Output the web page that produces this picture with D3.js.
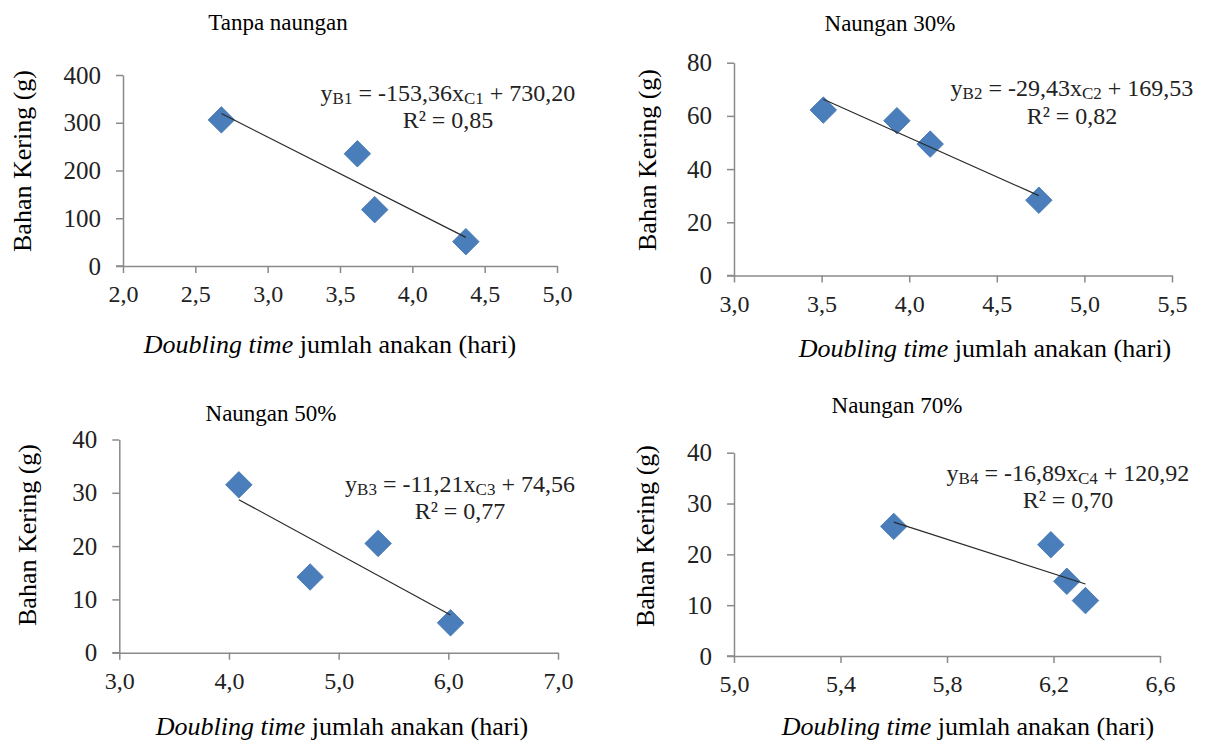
<!DOCTYPE html>
<html>
<head>
<meta charset="utf-8">
<script src="https://cdn.jsdelivr.net/npm/d3@7"></script>
<style>
  html, body { margin: 0; padding: 0; background: #fff; }
  svg { display: block; font-family: "Liberation Serif", "DejaVu Serif", serif; }
  svg text { font-family: "Liberation Serif", "DejaVu Serif", serif !important; }
</style>
</head>
<body>
<svg id="chart" width="1208" height="744"></svg>
<script>
// ---- data ----
const panelTitles = ["Tanpa naungan", "Naungan 30%", "Naungan 50%", "Naungan 70%"];
const xValues1 = [2.68, 3.62, 3.74, 4.37];
const yValues1 = [306, 235, 118, 51];
const xValues2 = [3.51, 3.93, 4.12, 4.74];
const yValues2 = [62.2, 58.2, 49.4, 28.3];
const xValues3 = [4.09, 4.74, 5.36, 6.02];
const yValues3 = [31.5, 14.2, 20.5, 5.6];
const xValues4 = [5.60, 6.19, 6.25, 6.32];
const yValues4 = [25.5, 21.9, 14.7, 10.9];
const slopes = [-153.36, -29.43, -11.21, -16.89];
const intercepts = [730.20, 169.53, 74.56, 120.92];
const rSquared = ["0,85", "0,82", "0,77", "0,70"];
const eqSubY = ["B1", "B2", "B3", "B4"];
const eqSubX = ["C1", "C2", "C3", "C4"];
const slopeLabels = ["-153,36", "-29,43", "-11,21", "-16,89"];
const interceptLabels = ["730,20", "169,53", "74,56", "120,92"];
const xTicks1 = [2.0, 2.5, 3.0, 3.5, 4.0, 4.5, 5.0];
const xTicks2 = [3.0, 3.5, 4.0, 4.5, 5.0, 5.5];
const xTicks3 = [3.0, 4.0, 5.0, 6.0, 7.0];
const xTicks4 = [5.0, 5.4, 5.8, 6.2, 6.6];
const yTicks1 = [0, 100, 200, 300, 400];
const yTicks2 = [0, 20, 40, 60, 80];
const yTicks3 = [0, 10, 20, 30, 40];
const yTicks4 = [0, 10, 20, 30, 40];
const xAxisTitleItalic = "Doubling time";
const xAxisTitleRest = " jumlah anakan (hari)";
const yAxisTitle = "Bahan Kering (g)";

// ---- layout ----
const layouts = [
  { xr: [123, 557], yr: [266, 75], title: [278, 30], eq: [448, 101, 128], xt: [330, 353], yt: [31, 161] },
  { xr: [734, 1172], yr: [275.5, 62.7], title: [890, 31], eq: [1072, 96, 124], xt: [985, 357], yt: [656, 160] },
  { xr: [119.3, 558], yr: [652.7, 439.5], title: [271, 421], eq: [460, 492, 519], xt: [342, 735], yt: [36, 535] },
  { xr: [734, 1160], yr: [656, 452.7], title: [897, 413], eq: [1068, 481, 508], xt: [968, 735], yt: [654, 536] }
];

const panels = [
  { xs: xValues1, ys: yValues1, xt: xTicks1, yt: yTicks1 },
  { xs: xValues2, ys: yValues2, xt: xTicks2, yt: yTicks2 },
  { xs: xValues3, ys: yValues3, xt: xTicks3, yt: yTicks3 },
  { xs: xValues4, ys: yValues4, xt: xTicks4, yt: yTicks4 }
];

const FONT = "'Liberation Serif', 'DejaVu Serif', serif";
const svg = d3.select("#chart");
const fmtX = v => d3.format(".1f")(v).replace(".", ",");
const axisColor = "#8a8a8a";
const markColor = "#4a7ebb";

panels.forEach((p, i) => {
  const L = layouts[i];
  const x = d3.scaleLinear().domain([p.xt[0], p.xt[p.xt.length - 1]]).range(L.xr);
  const y = d3.scaleLinear().domain([p.yt[0], p.yt[p.yt.length - 1]]).range(L.yr);
  const g = svg.append("g");

  const xa = g.append("g").attr("transform", `translate(0,${L.yr[0]})`)
    .call(d3.axisBottom(x).tickValues(p.xt).tickFormat(fmtX).tickSize(7).tickSizeOuter(0).tickPadding(12));
  const ya = g.append("g").attr("transform", `translate(${L.xr[0]},0)`)
    .call(d3.axisLeft(y).tickValues(p.yt).tickFormat(d3.format("d")).tickSize(7).tickSizeOuter(0).tickPadding(15));
  [xa, ya].forEach((a, k) => {
    a.attr("font-family", FONT);
    a.selectAll("path.domain").attr("stroke", axisColor).attr("stroke-width", 1.5);
    a.selectAll(".tick line").attr("stroke", axisColor).attr("stroke-width", 1.5);
    a.selectAll(".tick text").attr("fill", "#222").attr("font-size", k === 0 ? 24 : 25)
      .style("font-family", FONT);
  });
  g.append("line").attr("x1", L.xr[0] - 7).attr("x2", L.xr[0])
    .attr("y1", L.yr[0]).attr("y2", L.yr[0]).attr("stroke", axisColor).attr("stroke-width", 1.5);

  // markers
  const sym = d3.symbol().type(d3.symbolSquare).size(350);
  g.selectAll("path.pt").data(p.xs.map((v, k) => [v, p.ys[k]])).enter()
    .append("path").attr("class", "pt")
    .attr("d", sym)
    .attr("transform", d => `translate(${x(d[0])},${y(d[1])}) rotate(45)`)
    .attr("fill", markColor).attr("stroke", "#4172b0").attr("stroke-width", 0.8);

  // trendline (on top of markers)
  const xmin = d3.min(p.xs), xmax = d3.max(p.xs);
  g.append("line")
    .attr("x1", x(xmin)).attr("y1", y(slopes[i] * xmin + intercepts[i]))
    .attr("x2", x(xmax)).attr("y2", y(slopes[i] * xmax + intercepts[i]))
    .attr("stroke", "#2a2a2a").attr("stroke-width", 1.2);

  // title
  g.append("text").attr("x", L.title[0]).attr("y", L.title[1])
    .attr("text-anchor", "middle").attr("font-size", 23).attr("fill", "#000")
    .style("font-family", FONT)
    .text(panelTitles[i]);

  // equation
  const eq = g.append("text").attr("x", L.eq[0]).attr("y", L.eq[1])
    .attr("text-anchor", "middle").attr("font-size", 24).attr("fill", "#222")
    .style("font-family", FONT);
  eq.append("tspan").text("y");
  eq.append("tspan").attr("font-size", 17).attr("dy", 3).text(eqSubY[i]);
  eq.append("tspan").attr("dy", -3).text(" = " + slopeLabels[i] + "x");
  eq.append("tspan").attr("font-size", 17).attr("dy", 3).text(eqSubX[i]);
  eq.append("tspan").attr("dy", -3).text(" + " + interceptLabels[i]);
  g.append("text").attr("x", L.eq[0]).attr("y", L.eq[2])
    .attr("text-anchor", "middle").attr("font-size", 24).attr("fill", "#222")
    .style("font-family", FONT)
    .text("R² = " + rSquared[i]);

  // x axis title
  const xt = g.append("text").attr("x", L.xt[0]).attr("y", L.xt[1])
    .attr("text-anchor", "middle").attr("font-size", 26).attr("fill", "#000")
    .style("font-family", FONT);
  xt.append("tspan").attr("font-style", "italic").text(xAxisTitleItalic);
  xt.append("tspan").text(xAxisTitleRest);

  // y axis title
  g.append("text")
    .attr("transform", `translate(${L.yt[0]},${L.yt[1]}) rotate(-90)`)
    .attr("text-anchor", "middle").attr("font-size", 26).attr("fill", "#000")
    .style("font-family", FONT)
    .text(yAxisTitle);
});
</script>
</body>
</html>
